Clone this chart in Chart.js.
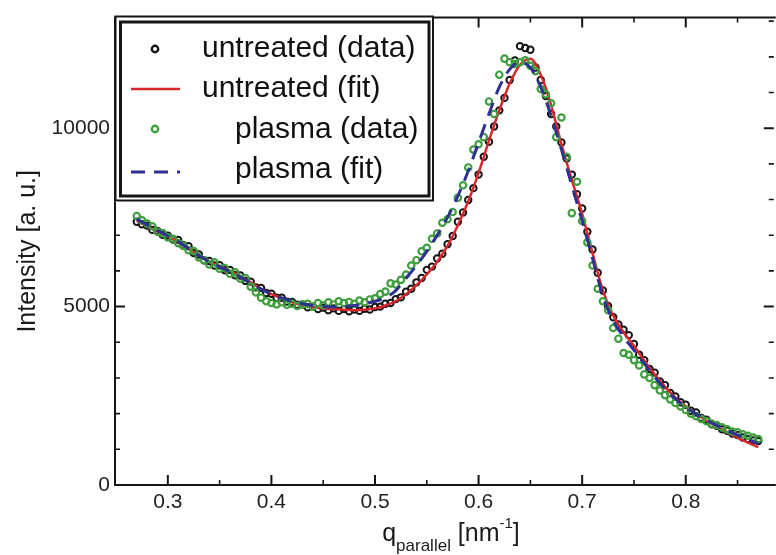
<!DOCTYPE html>
<html>
<head>
<meta charset="utf-8">
<script src="https://cdn.jsdelivr.net/npm/chart.js@4.4.0/dist/chart.umd.min.js"></script>
<style>
  html, body { margin: 0; padding: 0; background: #fff; overflow: hidden; }
  #wrap { width: 776px; height: 555px; overflow: hidden; }
  canvas { display: block; }
</style>
</head>
<body>
<div id="wrap"><canvas id="chart" width="780" height="555"></canvas></div>
<script>
// measured points (q in nm^-1)
const qData = [0.270,0.275,0.280,0.285,0.290,0.295,0.300,0.305,0.310,0.315,
  0.320,0.325,0.330,0.335,0.340,0.345,0.350,0.355,0.360,0.365,
  0.370,0.375,0.380,0.385,0.390,0.395,0.400,0.405,0.410,0.415,
  0.420,0.425,0.430,0.435,0.440,0.445,0.450,0.455,0.460,0.465,
  0.470,0.475,0.480,0.485,0.490,0.495,0.500,0.505,0.510,0.515,
  0.520,0.525,0.530,0.535,0.540,0.545,0.550,0.555,0.560,0.565,
  0.570,0.575,0.580,0.585,0.590,0.595,0.600,0.605,0.610,0.615,
  0.620,0.625,0.630,0.635,0.640,0.645,0.650,0.655,0.660,0.665,
  0.670,0.675,0.680,0.685,0.690,0.695,0.700,0.705,0.710,0.715,
  0.720,0.725,0.730,0.735,0.740,0.745,0.750,0.755,0.760,0.765,
  0.770,0.775,0.780,0.785,0.790,0.795,0.800,0.805,0.810,0.815,
  0.820,0.825,0.830,0.835,0.840,0.845,0.850,0.855,0.860,0.865,
  0.870];

const untreatedData = [7380,7310,7270,7150,7120,7010,6990,6880,6870,6720,
  6690,6500,6460,6300,6280,6150,6160,6020,6030,5880,
  5870,5720,5700,5540,5520,5380,5360,5250,5250,5140,
  5130,5050,5060,4980,5000,4930,4970,4900,4950,4880,
  4930,4870,4920,4880,4940,4920,4990,5000,5080,5100,
  5210,5260,5420,5500,5680,5800,6030,6120,6350,6480,
  6750,6980,7380,7640,7990,8320,8700,9200,9620,10050,
  10500,10850,11350,11900,12300,12250,12200,11700,11350,10900,
  10400,10050,9600,9150,8700,8150,7750,7100,6600,5950,
  5450,5020,4700,4500,4350,4200,3950,3650,3500,3250,
  3150,2900,2800,2580,2480,2320,2250,2080,2030,1880,
  1830,1700,1660,1560,1520,1440,1400,1330,1290,1250,
  1230];

const plasmaData = [7540,7420,7330,7250,7100,7060,6940,6900,6780,6700,
  6580,6560,6380,6300,6180,6240,6060,6080,5920,5960,
  5780,5800,5560,5400,5250,5150,5100,5060,5120,5050,
  5080,5020,5060,5080,5000,5100,5040,5120,5060,5150,
  5100,5130,5080,5170,5120,5200,5230,5350,5420,5650,
  5620,5750,5900,6150,6300,6550,6650,6900,7050,7350,
  7450,7650,8050,8400,8900,9400,9550,9750,10750,10400,
  11500,11950,11850,11800,11850,11900,11750,11600,11100,10950,
  10700,9750,10300,9200,7620,8500,7400,6800,6150,5500,
  5150,4900,4400,4100,3700,3650,3500,3350,3100,3000,
  2800,2650,2520,2400,2300,2200,2100,2000,1930,1850,
  1790,1720,1680,1620,1560,1500,1480,1420,1380,1330,
  1290];

// fitted curves
const qFit = [0.27,0.28,0.29,0.30,0.31,0.32,0.33,0.34,0.35,0.36,
  0.37,0.38,0.39,0.40,0.41,0.42,0.43,0.44,0.45,0.46,
  0.47,0.48,0.49,0.50,0.51,0.52,0.53,0.54,0.55,0.56,
  0.57,0.58,0.59,0.60,0.61,0.62,0.63,0.64,0.65,0.66,
  0.67,0.68,0.69,0.70,0.71,0.72,0.73,0.74,0.75,0.76,
  0.77,0.78,0.79,0.80,0.81,0.82,0.83,0.84,0.85,0.86,
  0.87];

const untreatedFit = [7400,7250,7100,6960,6800,6620,6430,6260,6130,6000,
  5850,5680,5500,5350,5230,5120,5040,4990,4950,4930,
  4910,4900,4910,4950,5030,5150,5350,5600,5900,6250,
  6700,7280,7950,8750,9650,10500,11250,11780,11950,11500,
  10650,9550,8550,7600,6500,5450,4750,4280,3900,3480,
  3100,2750,2450,2210,2000,1800,1640,1480,1330,1190,
  1060];

const plasmaFit = [7450,7290,7130,6980,6820,6630,6430,6260,6120,5980,
  5830,5660,5490,5350,5240,5150,5080,5030,5000,4990,
  5000,5030,5080,5150,5250,5450,5800,6150,6550,7000,
  7500,8100,8800,9600,10400,11150,11650,11850,11700,11150,
  10350,9400,8400,7400,6350,5300,4600,4150,3780,3400,
  3030,2700,2420,2190,1990,1820,1670,1530,1400,1280,
  1160];

const xTicks = [0.3, 0.4, 0.5, 0.6, 0.7, 0.8];
const yTicks = [0, 5000, 10000];

const FONT = '"Liberation Sans", Arial, Helvetica, sans-serif';
const BLACK = '#151515';
const GREEN = '#3f9f3f';
const RED = '#d8262b';
const BLUE = '#2e3192';

function toPoints(xs, ys) {
  return xs.map((x, i) => ({ x: x, y: ys[i] }));
}

// frame, inward ticks, legend box and axis titles
const framePlugin = {
  id: 'framePlugin',
  afterDraw(chart) {
    const ctx = chart.ctx;
    const a = chart.chartArea;
    const x = chart.scales.x;
    const y = chart.scales.y;
    ctx.save();
    ctx.strokeStyle = BLACK;

    // ticks
    for (let i = 6; i <= 17; i++) {
      const px = x.getPixelForValue(i * 0.05);
      const len = i % 2 === 0 ? 10 : 5;
      ctx.lineWidth = i % 2 === 0 ? 2 : 1.6;
      ctx.beginPath();
      ctx.moveTo(px, a.bottom); ctx.lineTo(px, a.bottom - len);
      ctx.moveTo(px, a.top); ctx.lineTo(px, a.top + len);
      ctx.stroke();
    }
    for (let i = 1; i <= 13; i++) {
      const py = y.getPixelForValue(i * 1000);
      const len = i % 5 === 0 ? 10 : 5;
      ctx.lineWidth = i % 5 === 0 ? 2 : 1.6;
      ctx.beginPath();
      ctx.moveTo(a.left, py); ctx.lineTo(a.left + len, py);
      ctx.moveTo(a.right, py); ctx.lineTo(a.right - len, py);
      ctx.stroke();
    }

    // frame (right edge lies outside the cropped picture)
    ctx.lineWidth = 2;
    ctx.beginPath();
    ctx.moveTo(a.right + 2, a.top);
    ctx.lineTo(a.left, a.top);
    ctx.lineTo(a.left, a.bottom);
    ctx.lineTo(a.right + 2, a.bottom);
    ctx.stroke();

    // legend
    ctx.fillStyle = '#fff';
    ctx.fillRect(115, 16, 319, 186);
    ctx.lineWidth = 2;
    ctx.strokeRect(115.5, 16.5, 317.5, 184);
    ctx.lineWidth = 3;
    ctx.strokeRect(120.5, 22, 308.5, 174);

    const sets = chart.data.datasets;
    const rowMark = [49, 89, 129, 172];
    const rowBase = [57, 97, 138, 178];
    const rowText = [202, 202, 235, 235];
    sets.forEach((d, i) => {
      ctx.save();
      if (d.showLine) {
        ctx.strokeStyle = d.borderColor;
        ctx.lineWidth = d.borderWidth;
        ctx.setLineDash(d.borderDash || []);
        ctx.beginPath();
        ctx.moveTo(131, rowMark[i]);
        ctx.lineTo(180, rowMark[i]);
        ctx.stroke();
      } else {
        ctx.strokeStyle = d.pointBorderColor;
        ctx.lineWidth = 2.4;
        ctx.beginPath();
        ctx.arc(155, rowMark[i], 3.2, 0, Math.PI * 2);
        ctx.stroke();
      }
      ctx.restore();
      ctx.fillStyle = '#111';
      ctx.font = '30px ' + FONT;
      ctx.textAlign = 'left';
      ctx.textBaseline = 'alphabetic';
      ctx.fillText(d.label, rowText[i], rowBase[i]);
    });

    // y title
    ctx.save();
    ctx.translate(28.5, (a.top + a.bottom) / 2);
    ctx.rotate(-Math.PI / 2);
    ctx.fillStyle = '#1a1a1a';
    ctx.font = '25px ' + FONT;
    ctx.textAlign = 'center';
    ctx.textBaseline = 'middle';
    ctx.fillText('Intensity [a. u.]', 0, 0);
    ctx.restore();

    // x title with sub/superscript
    const parts = [
      { t: 'q', size: 25, dy: 0 },
      { t: 'parallel', size: 17, dy: 10 },
      { t: ' [nm', size: 25, dy: 0 },
      { t: '-1', size: 15, dy: -13 },
      { t: ']', size: 25, dy: 0 }
    ];
    let total = 0;
    parts.forEach(p => {
      ctx.font = p.size + 'px ' + FONT;
      p.w = ctx.measureText(p.t).width;
      total += p.w;
    });
    let cx = 451 - total / 2;
    ctx.fillStyle = '#1a1a1a';
    ctx.textAlign = 'left';
    ctx.textBaseline = 'alphabetic';
    parts.forEach(p => {
      ctx.font = p.size + 'px ' + FONT;
      ctx.fillText(p.t, cx, 541 + p.dy);
      cx += p.w;
    });

    ctx.restore();
  }
};

const tickFont = { family: FONT, size: 21 };

new Chart(document.getElementById('chart'), {
  type: 'scatter',
  data: {
    datasets: [
      {
        label: 'untreated (data)',
        data: toPoints(qData, untreatedData),
        showLine: false,
        pointRadius: 3.2,
        pointBorderWidth: 2,
        pointBorderColor: BLACK,
        pointBackgroundColor: 'rgba(0,0,0,0)',
        borderColor: BLACK,
        order: 4
      },
      {
        label: 'untreated (fit)',
        data: toPoints(qFit, untreatedFit),
        showLine: true,
        pointRadius: 0,
        borderColor: RED,
        borderWidth: 2.5,
        cubicInterpolationMode: 'monotone',
        order: 3
      },
      {
        label: 'plasma (data)',
        data: toPoints(qData, plasmaData),
        showLine: false,
        pointRadius: 3.2,
        pointBorderWidth: 2.2,
        pointBorderColor: GREEN,
        pointBackgroundColor: 'rgba(0,0,0,0)',
        borderColor: GREEN,
        order: 2
      },
      {
        label: 'plasma (fit)',
        data: toPoints(qFit, plasmaFit),
        showLine: true,
        pointRadius: 0,
        borderColor: BLUE,
        borderWidth: 3,
        borderDash: [14, 9],
        cubicInterpolationMode: 'monotone',
        order: 1
      }
    ]
  },
  options: {
    responsive: false,
    animation: false,
    layout: { padding: { top: 17, right: 2, left: 0, bottom: 0 } },
    plugins: {
      legend: { display: false },
      tooltip: { enabled: false }
    },
    scales: {
      x: {
        type: 'linear',
        min: 0.249,
        max: 0.885,
        grid: { display: false, drawTicks: false },
        border: { display: false },
        ticks: {
          font: tickFont,
          color: '#222',
          padding: 5,
          maxRotation: 0,
          autoSkip: false,
          callback: v => v.toFixed(1)
        },
        afterBuildTicks: s => { s.ticks = xTicks.map(v => ({ value: v })); },
        afterFit: s => { s.height = 70; }
      },
      y: {
        type: 'linear',
        min: 0,
        max: 13100,
        grid: { display: false, drawTicks: false },
        border: { display: false },
        ticks: {
          font: tickFont,
          color: '#222',
          padding: 5,
          autoSkip: false,
          callback: v => String(v)
        },
        afterBuildTicks: s => { s.ticks = yTicks.map(v => ({ value: v })); },
        afterFit: s => { s.width = 115; }
      }
    }
  },
  plugins: [framePlugin]
});
</script>
</body>
</html>
